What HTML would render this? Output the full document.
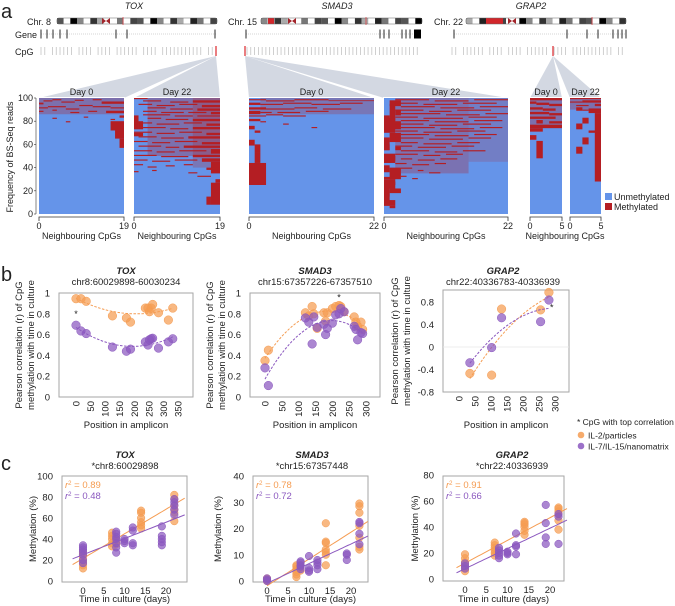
<!DOCTYPE html>
<html><head><meta charset="utf-8">
<style>
html,body{margin:0;padding:0;background:#fff;}
svg{display:block;font-family:"Liberation Sans",Arial,sans-serif;}
text{fill:#222;}
</style></head>
<body>
<svg id="fig" width="675" height="606" viewBox="0 0 675 606" xmlns="http://www.w3.org/2000/svg">
<text x="1" y="18" font-size="20">a</text>
<text x="1" y="281" font-size="20">b</text>
<text x="1" y="470" font-size="20">c</text>
<g id="pa"></g>
<g id="pb"></g>
<g id="pc"></g>
</svg>
<script>
// ---------- Panel a data ----------
const toxD0Red=[[0,1,96,94.5],[1,3,98,97],[3,5,99,98],[5,8,97,96],[8,10,98.5,97.5],[12,14,99,98],[14,19,97,95],[0,2,92,91],[2,6,93,92],[6,9,91,90],[9,12,94,93],[12,16,93,92],[16,19,92,91],[0,1,89,88],[3,4,90,89],[7,9,88,87],[11,13,89,88],[15,19,89,87],[3,4,83,82],[6,7,80,79],[10,11,84,83],[16,19,80,72],[17,19,72,65],[18,19,65,57],[16,17,82,81],[18,19,85,83]];
const toxD0Mix=[[0,19,100,86,0.3]];
const toxD22Red=[[0,1,85,73],[1,2,80,73],[0,2,70,67],[0,3,100,99],[17,19,27,8],[16,17,15,8],[18,19,30,27],[17,19,45,35],[16,19,40,38],[2,6,98,97],[8,12,97,96],[13,19,98,96],[1,4,95,94],[5,9,94,93],[10,14,95,94],[15,19,94,92],[3,7,92,91],[8,13,91,90],[14,19,91,89],[2,5,89,88],[6,11,88,87],[12,16,88,87],[17,19,88,86],[2,8,86,85],[9,13,85,84],[14,19,85,84],[3,6,83,82],[7,12,82,81],[13,19,82,80],[2,4,79,78],[5,10,78,77],[11,15,79,78],[16,19,78,76],[2,7,75,74],[8,12,74,73],[13,19,75,73],[0,4,71,70],[5,9,70,69],[10,15,71,70],[16,19,70,68],[1,5,67,66],[6,11,66,65],[12,19,67,65],[0,3,63,62],[4,8,62,61],[9,14,63,62],[15,19,62,60],[1,6,59,58],[7,10,58,57],[11,19,59,57],[0,4,55,54],[5,9,54,53],[10,16,55,54],[17,19,56,52],[0,5,51,50],[6,12,50,49],[13,19,51,49],[0,3,47,46],[4,8,46,45],[9,14,47,46],[15,19,48,45],[0,2,43,42],[3,5,41,40],[7,9,42,41],[11,13,43,42],[0,1,37,36],[4,5,38,37],[12,14,36,35],[14,17,33,32]];
const toxD22Mix=[[3,19,100,50,0.3],[13,19,100,40,0.25]];
const smadD0Red=[[0,3,99,98],[3,8,98,97],[8,14,99,98],[14,22,98,97.5],[0,2,96,94],[2,6,95,94],[6,11,96,95],[11,16,95,94],[16,20,96,95],[0,3,92,90],[3,8,91,90],[8,12,92,91],[13,18,91,90],[0,2,89,86],[2,4,88,87],[5,9,88,87],[10,14,89,88],[0,3,85,84],[3,6,86,85],[6,10,85,84],[0,2,82,80],[2,3,80,79],[6,7,78,77],[11,12,75,74],[0,1,76,73],[1,2,72,70],[0,1,64,59],[1,2,60,53],[0,3,44,25],[1,2,53,44]];
const smadD0Mix=[[2,22,100,86,0.25]];
const smadD22Red=[[0,2,83,70],[0,1,66,55],[0,2,52,46],[0,1,42,36],[0,2,30,25],[0,1,24,10],[1,3,98,93],[2,3,90,85],[0,1,85,73],[1,2,95,80],[0,3,80,73],[1,3,70,62],[0,1,60,55],[0,2,50,44],[1,3,40,30],[0,2,28,22],[1,3,22,18],[0,1,20,15],[0,2,12,7],[1,2,7,5],[0,2,32,30],[2,3,58,55],[2,8,99,98],[9,15,98,97],[16,22,99,98],[2,6,96,95],[7,13,95,94],[14,20,96,95],[3,9,93,92],[10,16,92,91],[17,22,93,92],[2,7,90,89],[8,12,89,88],[13,19,90,89],[3,10,87,86],[11,17,86,85],[18,22,87,86],[2,6,84,83],[7,14,83,82],[15,20,84,83],[3,8,81,80],[9,15,80,79],[16,21,81,80],[2,7,78,77],[8,13,77,76],[14,19,78,77],[3,9,75,74],[10,16,74,73],[17,21,75,74],[2,6,72,71],[7,12,71,70],[13,18,72,71],[3,8,69,68],[9,15,68,67],[16,20,69,68],[2,7,66,65],[8,14,65,64],[15,19,66,65],[3,6,62,61],[7,12,61,60],[13,17,62,61],[2,5,59,58],[6,11,58,57],[12,16,59,58],[3,8,55,54],[9,13,54,53],[14,18,55,54],[2,6,52,51],[7,10,51,50],[11,14,52,51],[3,5,48,47],[6,9,47,46],[10,13,48,47],[2,4,44,43],[5,8,43,42],[9,11,44,43],[3,5,40,39],[6,7,38,37],[8,10,36,35],[3,4,33,32],[5,6,31,30]];
const smadD22Mix=[[2,15,100,35,0.28],[15,22,100,45,0.18]];
const grapD0Red=[[0,5,100,98],[0,1,97,95],[1,3,96,94],[3,5,95,93],[0,2,92,90],[2,4,91,89],[0,3,88,86],[3,5,87,85],[0,4,84,82],[1,2,81,78],[3,5,80,78],[0,5,77,74],[0,2,74,71],[0,1,68,64],[1,2,63,48]];
const grapD0Mix=[[0,5,100,75,0.3]];
const grapD22Red=[[0,5,100,99],[0,2,97,96],[2,5,98,96],[1,3,94,93],[4,5,95,93],[1,2,92,89],[2,3,90,89],[3,5,91,87],[4,5,87,28],[3,5,72,70],[2,3,83,78],[1,2,78,73],[2,3,66,60],[1,2,58,52]];
const grapD22Mix=[[0,5,100,90,0.3]];
const freqTicks=[0,20,40,60,80,100];

// ---------- Panel b data ----------
const toxPos=[0,17,35,125,173,187,238,247,252,258,263,283,317,332];
const toxIL2=[0.945,0.945,0.92,0.78,0.76,0.72,0.855,0.855,0.82,0.855,0.89,0.81,0.74,0.855];
const toxIL7=[0.69,0.635,0.61,0.48,0.44,0.46,0.53,0.50,0.55,0.56,0.565,0.47,0.53,0.56];
const smadPos=[0,10,120,130,140,145,155,175,180,185,200,210,220,225,235,265,270,275,285,290];
const smadIL2=[0.35,0.45,0.81,0.78,0.87,0.80,0.66,0.81,0.73,0.81,0.85,0.87,0.88,0.87,0.82,0.77,0.72,0.68,0.72,0.65];
const smadIL7=[0.28,0.11,0.76,0.72,0.51,0.77,0.67,0.70,0.60,0.66,0.71,0.79,0.80,0.85,0.82,0.68,0.65,0.55,0.62,0.61];
const grapPos=[34,102,133,255,281];
const grapIL2=[-0.47,-0.50,0.675,0.66,0.97];
const grapIL7=[-0.28,-0.01,0.52,0.45,0.835];

// ---------- Panel c data ----------
const cToxIL2Day=[0,0,0,0,0,0,0,7,7,7,7,7,8,8,14,14,14,14,14,14,22,22,22,22,22,22];
const cToxIL2Val=[12,15,18,20,23,25,27,33,36,40,43,46,35,38,50,53,56,60,65,67,57,65,68,72,78,82];
const cToxIL7Day=[0,0,0,0,0,0,0,8,8,8,8,8,8,8,10,10,10,12,12,12,12,19,19,19,19,19,22,22,22,22,22];
const cToxIL7Val=[17,20,25,28,30,32,34,27,32,36,40,42,45,47,36,38,40,34,36,48,51,34,37,40,43,52,63,68,72,75,78];
const cSmadIL2Day=[0,0,0,7,7,7,7,7,7,8,8,8,14,14,14,14,14,14,14,22,22,22,22,22,22,22];
const cSmadIL2Val=[0,0.5,1,1.5,2.5,3.5,4.5,5.5,6,4,5,6,6,10,11,12,14.5,15,22,12,13,16.5,21,26,28.5,29.5];
const cSmadIL7Day=[0,0,0,8,8,8,8,8,10,10,10,10,12,12,12,12,19,19,19,22,22,22,22];
const cSmadIL7Val=[0,0.5,1,4.5,5.5,6,7,7.5,3.5,4,5,9.5,4.5,6,7,8,8,10,10.5,14,18,22,22.5];
const cGrapIL2Day=[0,0,0,0,0,0,7,7,7,7,7,7,14,14,14,14,14,14,22,22,22,22,22,22];
const cGrapIL2Val=[6,8,10,13,16,19,18,20,22,24,26,28,34,37,40,42,43,44,38,45,50,52,54,55];
const cGrapIL7Day=[0,0,0,8,8,8,8,8,10,10,10,12,12,12,12,19,19,19,19,22,22,22];
const cGrapIL7Val=[8,10,12,16,18,20,22,24,19,20,21,19,25,26,35,27,32,43,57,27,48,50];

const NS="http://www.w3.org/2000/svg";
function mk(tag,attrs,parent,txt){const e=document.createElementNS(NS,tag);for(const k in attrs)e.setAttribute(k,attrs[k]);if(txt!==undefined)e.textContent=txt;parent.appendChild(e);return e;}
const pa=document.getElementById('pa'),pb=document.getElementById('pb'),pc=document.getElementById('pc');
const BLUE="#6594e9",RED="#b41e23",ORANGE="#f59c52",PURPLE="#8b58bf";

// ---------- Panel a: genomic tracks ----------
const genes=[{name:"TOX",chr:"Chr. 8",tx:134,cl:27,ix0:57,ix1:217,cen:106,redBand:null,mark:123,g0:41,g1:216,gt:[41,47,53,60,67,116,127,215],cpg0:41,cpgRed:216,apex:216},
{name:"SMAD3",chr:"Chr. 15",tx:337,cl:228,ix0:261,ix1:422,cen:292,redBand:[268,274],mark:366,g0:246,g1:421,gt:[246,380,384,389,402,406,410],cpg0:247,cpgRed:245,apex:245},
{name:"GRAP2",chr:"Chr. 22",tx:531,cl:434,ix0:466,ix1:626,cen:512,redBand:[486,503],mark:592,g0:454,g1:626,gt:[454,567,587,598,613,618,622,626],cpg0:452,cpgRed:553,apex:553}];
mk('text',{x:15,y:38,'font-size':9,},pa,'Gene');
mk('text',{x:15,y:55,'font-size':9,},pa,'CpG');
const bandShade=["#555","#fff","#000","#888","#fff","#333","#aaa","#fff","#222","#777","#fff","#444"];
genes.forEach((g,gi)=>{
  const t=mk('text',{x:g.tx,y:9,'font-size':9,'font-style':'italic','text-anchor':'middle'},pa,g.name);
  
  const c=mk('text',{x:g.cl,y:25,'font-size':9},pa,g.chr);
  
  const ig=mk('g',{},pa);
  const w=(g.ix1-g.ix0)/24;
  for(let i=0;i<24;i++){const x=g.ix0+i*w;if(Math.abs(x-g.cen)<w)continue;mk('rect',{x:x,y:18,width:w,height:6,fill:bandShade[(i+gi*3)%bandShade.length]},ig);}
  if(g.redBand)mk('rect',{x:g.redBand[0],y:18,width:g.redBand[1]-g.redBand[0],height:6,fill:"#d2262b"},ig);
  mk('rect',{x:g.ix0,y:18,width:g.ix1-g.ix0,height:6,fill:'none',stroke:'#666','stroke-width':0.6,rx:2},ig);
  mk('path',{d:`M${g.cen-4},18 L${g.cen},21 L${g.cen-4},24 Z M${g.cen+4},18 L${g.cen},21 L${g.cen+4},24 Z`,fill:'#a2242a'},ig);
  mk('line',{x1:g.mark,y1:17,x2:g.mark,y2:25,stroke:'#e0454a','stroke-width':0.8},ig);
  const gg=mk('g',{},pa);
  mk('line',{x1:g.g0,y1:34,x2:g.g1,y2:34,stroke:'#aaa','stroke-width':0.6,'stroke-dasharray':'1,1'},gg);
  g.gt.forEach(x=>mk('line',{x1:x,y1:29.5,x2:x,y2:38.5,stroke:'#111','stroke-width':0.9},gg));
  if(gi===1)mk('rect',{x:414,y:29.5,width:7,height:9,fill:'#000'},gg);
  const cg=mk('g',{},pa);
  const span=g.g1-g.cpg0;
  for(let i=0;i<46;i++){const x=g.cpg0+span*((i*37)%46)/46;if((i%7)===3&&gi!==1)continue;mk('line',{x1:x,y1:47,x2:x,y2:55,stroke:'#bbb','stroke-width':0.7},cg);}
  mk('line',{x1:g.cpgRed,y1:46,x2:g.cpgRed,y2:56,stroke:'#e0454a','stroke-width':1.4},cg);
});

// ---------- Panel a: heatmaps ----------
const HT=98,HB=214;
function hy(p){return HT+(100-p)/100*(HB-HT);}
const maps=[{id:'tox-day0',x0:39,x1:124,n:19,d:toxD0Red,mix:toxD0Mix,label:'Day 0',apex:216},
{id:'tox-day22',x0:134,x1:220,n:19,d:toxD22Red,mix:toxD22Mix,label:'Day 22',apex:216},
{id:'smad3-day0',x0:249,x1:374,n:22,d:smadD0Red,mix:smadD0Mix,label:'Day 0',apex:245},
{id:'smad3-day22',x0:384,x1:508,n:22,d:smadD22Red,mix:smadD22Mix,label:'Day 22',apex:245},
{id:'grap2-day0',x0:530,x1:562,n:5,d:grapD0Red,mix:grapD0Mix,label:'Day 0',apex:553},
{id:'grap2-day22',x0:570,x1:601,n:5,d:grapD22Red,mix:grapD22Mix,label:'Day 22',apex:553}];
maps.forEach(m=>{
  const f=mk('polygon',{points:`${m.apex},56 ${m.x0},${HT} ${m.x1},${HT}`,fill:'#d3d8e2'},pa);
  
});
maps.forEach(m=>{
  const g=mk('g',{},pa);
  mk('rect',{x:m.x0-1,y:HT-1,width:m.x1-m.x0+2,height:HB-HT+2,fill:'#fff'},g);
  mk('rect',{x:m.x0,y:HT,width:m.x1-m.x0,height:HB-HT,fill:BLUE},g);
  const cw=(m.x1-m.x0)/m.n;
  m.mix.forEach(r=>{const c=mk('rect',{x:m.x0+r[0]*cw,y:hy(r[2]),width:(r[1]-r[0])*cw,height:hy(r[3])-hy(r[2]),fill:RED,'fill-opacity':r[4]},g);
    });
  m.d.forEach(r=>{const c=mk('rect',{x:m.x0+r[0]*cw,y:hy(r[2]),width:(r[1]-r[0])*cw,height:Math.max(0.8,hy(r[3])-hy(r[2])),fill:RED},g);
    });
  const l=mk('text',{x:(m.x0+m.x1)/2,y:95,'font-size':9,'text-anchor':'middle'},pa,m.label);
  
  const ax=mk('g',{},pa);
  mk('path',{d:`M${m.x0},221 L${m.x0},217 L${m.x1},217 L${m.x1},221`,fill:'none',stroke:'#333','stroke-width':0.8},ax);
  mk('text',{x:m.x0,y:229,'font-size':9,'text-anchor':'middle'},ax,'0');
  mk('text',{x:m.x1,y:229,'font-size':9,'text-anchor':'middle'},ax,String(m.n));
  if(!m.id.startsWith('grap2')){const t=mk('text',{x:(m.x0+m.x1)/2,y:239,'font-size':9,'text-anchor':'middle'},ax,'Neighbouring  CpGs');}
});
{const t=mk('text',{x:565,y:239,'font-size':9,'text-anchor':'middle'},pa,'Neighbouring  CpGs');}
{const ya=mk('g',{},pa);
 mk('line',{x1:36,y1:HT,x2:36,y2:HB,stroke:'#333','stroke-width':0.6},ya);
 freqTicks.forEach(v=>{mk('line',{x1:34,y1:hy(v),x2:36,y2:hy(v),stroke:'#333','stroke-width':0.6},ya);mk('text',{x:33,y:hy(v)+3,'font-size':9,'text-anchor':'end'},ya,String(v));});
 const yt=mk('text',{x:0,y:0,'font-size':9,'text-anchor':'middle',transform:'translate(13,157) rotate(-90)'},ya,'Frequency of BS-Seq reads');
 }
{const lg=mk('g',{},pa);
 mk('rect',{x:605,y:193,width:7,height:7,fill:BLUE},lg);mk('text',{x:614,y:200,'font-size':9},lg,'Unmethylated');
 mk('rect',{x:605,y:203,width:7,height:7,fill:RED},lg);mk('text',{x:614,y:210,'font-size':9},lg,'Methylated');}

// ---------- helpers ----------
function quadFit(xs,ys){let S=[0,0,0,0,0],T=[0,0,0];for(let i=0;i<xs.length;i++){let p=1;for(let k=0;k<5;k++){S[k]+=p;if(k<3)T[k]+=p*ys[i];p*=xs[i];}}
 const A=[[S[0],S[1],S[2],T[0]],[S[1],S[2],S[3],T[1]],[S[2],S[3],S[4],T[2]]];
 for(let i=0;i<3;i++){for(let j=i+1;j<3;j++){const f=A[j][i]/A[i][i];for(let k=i;k<4;k++)A[j][k]-=f*A[i][k];}}
 const c=[0,0,0];for(let i=2;i>=0;i--){let s=A[i][3];for(let k=i+1;k<3;k++)s-=A[i][k]*c[k];c[i]=s/A[i][i];}return x=>c[0]+c[1]*x+c[2]*x*x;}
function linFit(xs,ys){const n=xs.length;let mx=0,my=0;for(let i=0;i<n;i++){mx+=xs[i];my+=ys[i];}mx/=n;my/=n;let sxy=0,sxx=0;for(let i=0;i<n;i++){sxy+=(xs[i]-mx)*(ys[i]-my);sxx+=(xs[i]-mx)**2;}const b=sxy/sxx;return x=>my+b*(x-mx);}

function panel(parent,cfg){
  const g=mk('g',{},parent);
  const xs=v=>cfg.xp0+(v-cfg.xd0)*(cfg.xp1-cfg.xp0)/(cfg.xd1-cfg.xd0);
  const ys=v=>cfg.yp0+(v-cfg.yd0)*(cfg.yp1-cfg.yp0)/(cfg.yd1-cfg.yd0);
  mk('rect',{x:cfg.bx0,y:cfg.by0,width:cfg.bx1-cfg.bx0,height:cfg.by1-cfg.by0,fill:'#fff',stroke:'#a6a6a6','stroke-width':1},g);
  if(cfg.zeroLine)mk('line',{x1:cfg.bx0,y1:ys(0),x2:cfg.bx1,y2:ys(0),stroke:'#e6e6e6','stroke-width':0.8},g);
  const yax=mk('g',{},g);
  cfg.yticks.forEach((v,i)=>mk('text',{x:cfg.bx0-9,y:ys(v)+3.5,'font-size':9.5,'text-anchor':'end'},yax,cfg.ylabels[i]));
  const xax=mk('g',{},g);
  cfg.xticks.forEach(v=>{if(cfg.rot)mk('text',{x:0,y:0,'font-size':9.5,'text-anchor':'end',transform:`translate(${xs(v)+3.5},${cfg.by1+4}) rotate(-90)`},xax,String(v));
    else mk('text',{x:xs(v),y:cfg.by1+12,'font-size':9.5,'text-anchor':'middle'},xax,String(v));});
  const xt=mk('text',{x:(cfg.bx0+cfg.bx1)/2,y:cfg.xtY,'font-size':9.5,'text-anchor':'middle'},g,cfg.xtitle);
  
  cfg.ytitle.forEach((s,i)=>{const t=mk('text',{x:0,y:0,'font-size':9.5,'text-anchor':'middle',transform:`translate(${cfg.ytX[i]},${(cfg.by0+cfg.by1)/2}) rotate(-90)`},g,s);
    });
  const t1=mk('text',{x:cfg.tx,y:cfg.tY,'font-size':9.5,'font-style':'italic','font-weight':'bold','text-anchor':'middle'},g,cfg.title);
  
  const t2=mk('text',{x:cfg.tx,y:cfg.tY+11,'font-size':9.5,'text-anchor':'middle'},g,cfg.sub);
  
  cfg.series.forEach(s=>{
    const sg=mk('g',{},g);
    const f=cfg.fit==='quad'?quadFit(s.x,s.y):linFit(s.x,s.y);
    let lo=cfg.fitRange?cfg.fitRange[0]:Math.min(...s.x),hi=cfg.fitRange?cfg.fitRange[1]:Math.max(...s.x);
    let d='';for(let i=0;i<=40;i++){const xv=lo+(hi-lo)*i/40;d+=(i?'L':'M')+xs(xv).toFixed(1)+','+ys(f(xv)).toFixed(1);}
    const fl=mk('path',{d:d,fill:'none',stroke:s.color,'stroke-width':1,'stroke-dasharray':cfg.fit==='quad'?'2.5,1.5':'none'},sg);
    
    s.x.forEach((xv,i)=>{const c=mk('circle',{cx:xs(xv),cy:ys(s.y[i]),r:cfg.r,fill:s.color,'fill-opacity':0.72,stroke:s.color,'stroke-width':0.5},sg);
      });
  });
  (cfg.stars||[]).forEach(st=>{const t=mk('text',{x:xs(st[0]),y:ys(st[1]),'font-size':9,'text-anchor':'middle'},g,'*');});
  (cfg.r2||[]).forEach((r,i)=>{const t=mk('text',{x:cfg.bx0+3,y:cfg.by0+12+i*11,'font-size':9.5,fill:r[1]},g);
    
    mk('tspan',{'font-style':'italic',fill:r[1]},t,'r');mk('tspan',{'font-size':6,dy:-3,fill:r[1]},t,'2');mk('tspan',{dy:3,fill:r[1]},t,' = '+r[0]);});
  return g;
}
const rT=['Pearson correlation (r) of CpG','methylation with time in culture'];
const y01=[0,0.2,0.4,0.6,0.8,1],y01L=['0','0.2','0.4','0.6','0.8','1'];
panel(pb,{name:'chart-b-tox',bx0:59,bx1:193,by0:293,by1:397,xd0:0,xd1:350,xp0:76,xp1:178,yd0:0,yd1:1,yp0:397,yp1:293,
 yticks:y01,ylabels:y01L,xticks:[0,50,100,150,200,250,300,350],rot:true,xtitle:'Position in amplicon',xtY:428,ytitle:rT,ytX:[22,34],
 title:'TOX',sub:'chr8:60029898-60030234',tx:126,tY:274,fit:'quad',r:4.3,stars:[[0,0.77]],
 series:[{key:'il2',x:toxPos,y:toxIL2,color:ORANGE},{key:'il7',x:toxPos,y:toxIL7,color:PURPLE}]});
panel(pb,{name:'chart-b-smad3',bx0:250,bx1:380,by0:293,by1:397,xd0:0,xd1:300,xp0:265,xp1:366,yd0:0,yd1:1,yp0:397,yp1:293,
 yticks:y01,ylabels:y01L,xticks:[0,50,100,150,200,250,300],rot:true,xtitle:'Position in amplicon',xtY:428,ytitle:rT,ytX:[213,225],
 title:'SMAD3',sub:'chr15:67357226-67357510',tx:315,tY:274,fit:'quad',r:4.3,stars:[[220,0.93]],
 series:[{key:'il2',x:smadPos,y:smadIL2,color:ORANGE},{key:'il7',x:smadPos,y:smadIL7,color:PURPLE}]});
panel(pb,{name:'chart-b-grap2',bx0:443,bx1:569,by0:290,by1:392,xd0:0,xd1:300,xp0:459,xp1:555,yd0:0,yd1:0.8,yp0:347,yp1:302,zeroLine:true,
 yticks:[0.8,0.4,0,-0.4,-0.8],ylabels:['0.8','0.4','0','-0.4','-0.8'],xticks:[0,50,100,150,200,250,300],rot:true,xtitle:'Position in amplicon',xtY:428,ytitle:rT,ytX:[398,410],
 title:'GRAP2',sub:'chr22:40336783-40336939',tx:503,tY:274,fit:'quad',r:4.3,stars:[[290,0.65]],
 series:[{key:'il2',x:grapPos,y:grapIL2,color:ORANGE},{key:'il7',x:grapPos,y:grapIL7,color:PURPLE}]});
{const lg=mk('g',{},pb);
 mk('text',{x:577,y:425,'font-size':8.5},lg,'* CpG with top correlation');
 mk('circle',{cx:581,cy:435,r:3.3,fill:ORANGE,'fill-opacity':0.85},lg);mk('text',{x:588,y:438.5,'font-size':8.5},lg,'IL-2/particles');
 mk('circle',{cx:581,cy:446,r:3.3,fill:PURPLE,'fill-opacity':0.85},lg);mk('text',{x:588,y:449.5,'font-size':8.5},lg,'IL-7/IL-15/nanomatrix');}

const dT=['Time in culture (days)'],mT=['Methylation  (%)'];
panel(pc,{name:'chart-c-tox',bx0:62,bx1:187,by0:476,by1:582,xd0:0,xd1:20,xp0:83,xp1:166,yd0:0,yd1:100,yp0:581,yp1:476,
 yticks:[0,20,40,60,80,100],ylabels:['0','20','40','60','80','100'],xticks:[0,5,10,15,20],rot:false,xtitle:dT[0],xtY:602,ytitle:mT,ytX:[36],
 title:'TOX',sub:'*chr8:60029898',tx:125,tY:458,fit:'lin',fitRange:[-2.5,24.5],r:3.8,r2:[['0.89',ORANGE],['0.48',PURPLE]],
 series:[{key:'il2',x:cToxIL2Day,y:cToxIL2Val,color:ORANGE},{key:'il7',x:cToxIL7Day,y:cToxIL7Val,color:PURPLE}]});
panel(pc,{name:'chart-c-smad3',bx0:253,bx1:368,by0:476,by1:582,xd0:0,xd1:20,xp0:267,xp1:351,yd0:0,yd1:40,yp0:581,yp1:476,
 yticks:[0,10,20,30,40],ylabels:['0','10','20','30','40'],xticks:[0,5,10,15,20],rot:false,xtitle:dT[0],xtY:602,ytitle:mT,ytX:[221],
 title:'SMAD3',sub:'*chr15:67357448',tx:312,tY:458,fit:'lin',fitRange:[0,24],r:3.8,r2:[['0.78',ORANGE],['0.72',PURPLE]],
 series:[{key:'il2',x:cSmadIL2Day,y:cSmadIL2Val,color:ORANGE},{key:'il7',x:cSmadIL7Day,y:cSmadIL7Val,color:PURPLE}]});
panel(pc,{name:'chart-c-grap2',bx0:443,bx1:564,by0:476,by1:581,xd0:0,xd1:20,xp0:465,xp1:550,yd0:0,yd1:80,yp0:579,yp1:475,
 yticks:[0,20,40,60,80],ylabels:['0','20','40','60','80'],xticks:[0,5,10,15,20],rot:false,xtitle:dT[0],xtY:602,ytitle:mT,ytX:[418],
 title:'GRAP2',sub:'*chr22:40336939',tx:512,tY:458,fit:'lin',fitRange:[-2,24],r:3.8,r2:[['0.91',ORANGE],['0.66',PURPLE]],
 series:[{key:'il2',x:cGrapIL2Day,y:cGrapIL2Val,color:ORANGE},{key:'il7',x:cGrapIL7Day,y:cGrapIL7Val,color:PURPLE}]});
</script>
</body></html>
